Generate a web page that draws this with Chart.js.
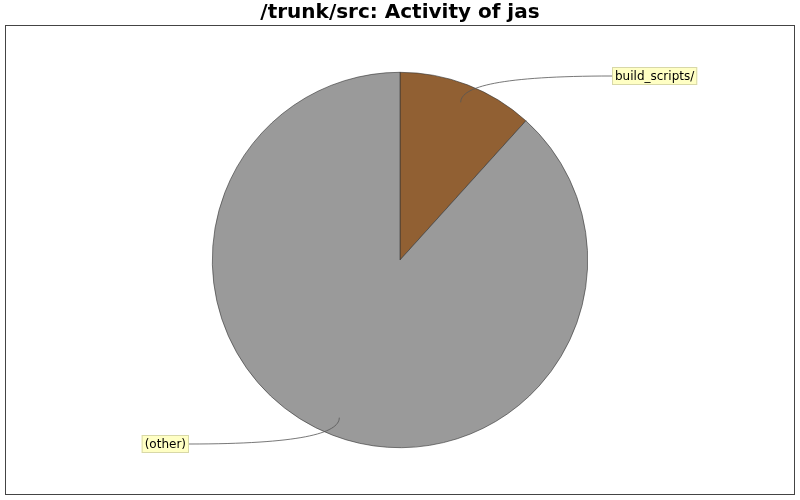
<!DOCTYPE html>
<html>
<head>
<meta charset="utf-8">
<script src="https://cdn.jsdelivr.net/npm/chart.js@4"></script>
<style>
  html, body { margin: 0; padding: 0; background: #fff; }
  #wrap { width: 800px; height: 500px; }
</style>
</head>
<body>
<div id="wrap"><canvas id="activityChart" width="800" height="500"></canvas></div>
<script>
const chartTitle = '/trunk/src: Activity of jas';
const labels = ['build_scripts/', '(other)'];
const values = [11.7, 88.3];
const colours = ['#916033', '#9a9a9a'];

// where each label box sits (left edge x, centre y)
const labelSpots = [
    { x: 612, y: 76, side: 'right' },
    { x: 189, y: 444, side: 'left' }
];

// frame + title + callout labels
const decorations = {
    id: 'decorations',
    beforeDraw(chart) {
        const ctx = chart.ctx;
        ctx.save();
        ctx.fillStyle = '#fff';
        ctx.fillRect(0, 0, chart.width, chart.height);
        ctx.strokeStyle = '#444';
        ctx.lineWidth = 1;
        ctx.strokeRect(5.5, 25.5, 789, 469);
        ctx.fillStyle = '#000';
        ctx.font = 'bold 20px "DejaVu Sans"';
        ctx.textAlign = 'center';
        ctx.textBaseline = 'middle';
        ctx.fillText(chartTitle, 400, 13);
        ctx.restore();
    },
    afterDatasetsDraw(chart) {
        const ctx = chart.ctx;
        const arcs = chart.getDatasetMeta(0).data;
        ctx.save();
        ctx.font = '12px "DejaVu Sans"';
        ctx.textBaseline = 'middle';
        arcs.forEach((arc, i) => {
            const mid = (arc.startAngle + arc.endAngle) / 2;
            const r = arc.outerRadius * 0.9;
            const ax = arc.x + Math.cos(mid) * r;
            const ay = arc.y + Math.sin(mid) * r;
            const spot = labelSpots[i];
            const text = labels[i];
            const w = ctx.measureText(text).width + 6;
            const h = 18;
            const boxX = spot.side === 'right' ? spot.x : spot.x - w;
            const endX = spot.side === 'right' ? boxX : boxX + w;

            ctx.strokeStyle = '#555';
            ctx.lineWidth = 0.8;
            ctx.beginPath();
            ctx.moveTo(ax, ay);
            const dir = spot.side === 'right' ? 1 : -1;
            ctx.bezierCurveTo(ax, ay + (spot.y - ay) * 0.6, ax + dir * 40, spot.y, endX, spot.y);
            ctx.stroke();

            ctx.fillStyle = '#ffffc4';
            ctx.fillRect(boxX, spot.y - h / 2, w, h);
            ctx.strokeStyle = '#d8d8a8';
            ctx.lineWidth = 1;
            ctx.strokeRect(boxX + 0.5, spot.y - h / 2 + 0.5, w - 1, h - 1);
            ctx.fillStyle = '#000';
            ctx.textAlign = 'left';
            ctx.fillText(text, boxX + 3, spot.y + 0.5);
        });
        ctx.restore();
    }
};

new Chart(document.getElementById('activityChart').getContext('2d'), {
    type: 'pie',
    data: {
        labels: labels,
        datasets: [{
            data: values,
            backgroundColor: colours,
            borderColor: '#333',
            borderWidth: 0.6
        }]
    },
    options: {
        responsive: false,
        animation: false,
        layout: { padding: { top: 72, bottom: 52, left: 0, right: 0 } },
        plugins: {
            legend: { display: false },
            tooltip: { enabled: false },
            title: { display: false }
        }
    },
    plugins: [decorations]
});
</script>
</body>
</html>
